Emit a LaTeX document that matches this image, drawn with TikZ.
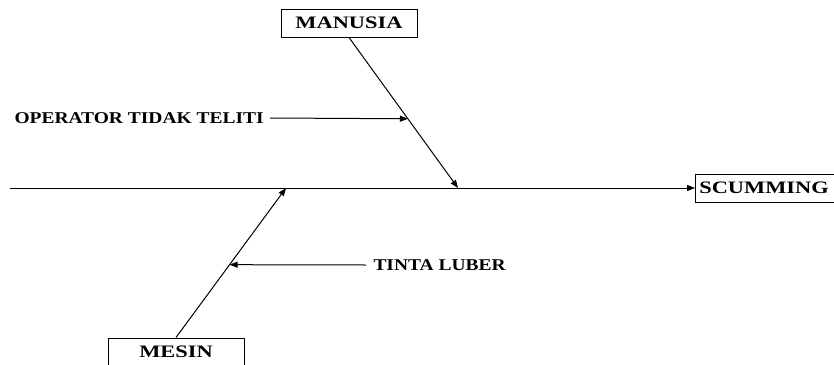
\documentclass[tikz,border=0pt]{standalone}
\usepackage{fontspec}
\setmainfont{Liberation Serif}
\usetikzlibrary{arrows.meta,calc}
\begin{document}
\begin{tikzpicture}[x=1pt,y=-1pt,
  line width=1pt,
  arr/.style={-{Triangle[length=8pt,width=6pt]}},
  catbox/.style={draw, line width=1pt, minimum width=136pt, minimum height=28pt,
    inner sep=0pt, font=\fontsize{17.5}{17.5}\selectfont\bfseries},
  cause/.style={inner sep=0pt, font=\fontsize{16.5}{16.5}\selectfont\bfseries}]
\useasboundingbox (0,0) rectangle (834,364);

% category boxes and the effect
\node[catbox] (manusia) at (349,23) {\scalebox{1.28}[1]{MANUSIA}};
\node[catbox] (mesin) at (176,352) {\scalebox{1.28}[1]{MESIN}};
\node[catbox, minimum width=146pt, anchor=west] (effect) at (695,188)
  {\hspace*{-9pt}\scalebox{1.28}[1]{SCUMMING}};

% spine
\coordinate (tail) at (10,188);
\draw[arr] (tail) -- (effect.west);

% bones
\coordinate (tipA) at (458,188);
\coordinate (tipB) at (286,188);
\draw[arr] (manusia.south) -- (tipA);
\draw[arr] (mesin.north) -- (tipB);

% causes
\node[cause, anchor=west] (op) at (14,118) {\scalebox{1.18}[1]{OPERATOR TIDAK TELITI}};
\coordinate (opEnd) at ($(manusia.south)!0.54!(tipA)$);
\draw[arr] ([xshift=6pt]op.east) -- (opEnd);

\node[cause, anchor=west] (tinta) at (373,265) {\scalebox{1.18}[1]{TINTA LUBER}};
\coordinate (tintaEnd) at ($(mesin.north)!0.487!(tipB)$);
\draw[arr] ([xshift=-7pt]tinta.west) -- (tintaEnd);
\end{tikzpicture}
\end{document}
